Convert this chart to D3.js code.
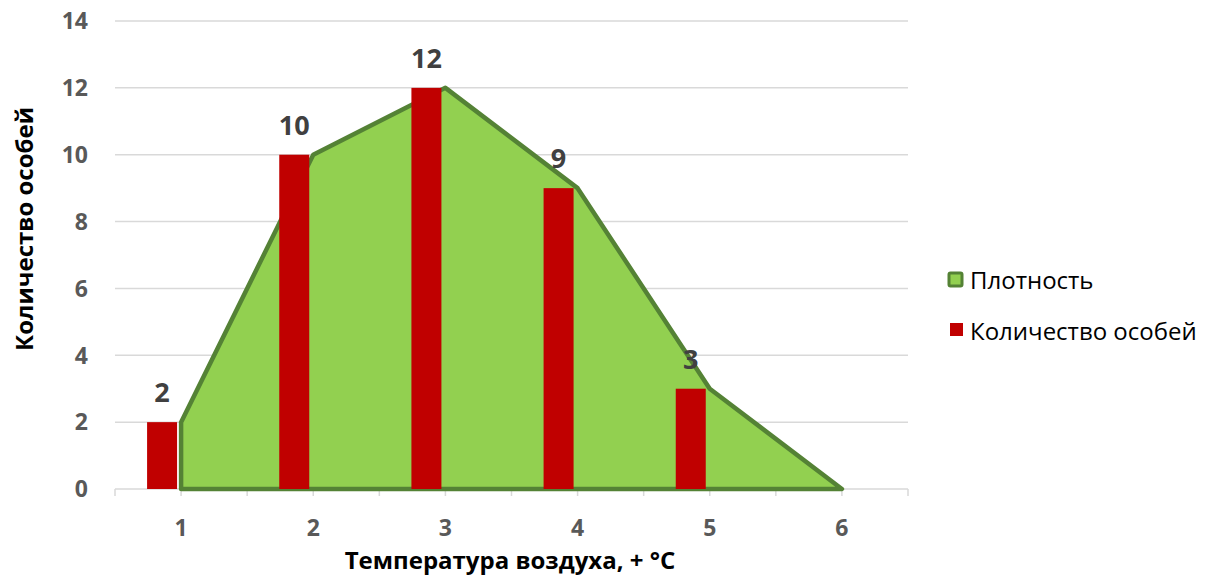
<!DOCTYPE html>
<html>
<head>
<meta charset="utf-8">
<script src="https://cdn.jsdelivr.net/npm/d3@7"></script>
<style>
  body { margin: 0; background: #fff; }
  text { font-family: "Open Sans", "Liberation Sans", sans-serif; }
</style>
</head>
<body>
<div id="chart"></div>
<script>
// chart data
const categories = ["1", "2", "3", "4", "5", "6"];
const density = [2, 10, 12, 9, 3, 0];          // Плотность (area)
const counts = [2, 10, 12, 9, 3, null];        // Количество особей (bars)
const yTicks = [0, 2, 4, 6, 8, 10, 12, 14];

const W = 1211, H = 585;
const margin = {top: 21, right: 303, bottom: 96, left: 115};
const width = W - margin.left - margin.right;
const height = H - margin.top - margin.bottom;

const svg = d3.select("#chart").append("svg")
    .attr("width", W)
    .attr("height", H);

const g = svg.append("g")
    .attr("transform", `translate(${margin.left},${margin.top})`);

// band per category, points at band centers
const x = d3.scaleBand()
    .domain(categories)
    .range([0, width]);
const cx = d => x(d) + x.bandwidth() / 2;

const y = d3.scaleLinear()
    .domain([0, 14])
    .range([height, 0]);

// gridlines
g.selectAll(".grid")
    .data(yTicks)
    .enter().append("line")
    .attr("class", "grid")
    .attr("x1", 0)
    .attr("x2", width)
    .attr("y1", d => y(d))
    .attr("y2", d => y(d))
    .attr("stroke", "#d9d9d9")
    .attr("stroke-width", 1.5);

// y tick labels
g.selectAll(".ylab")
    .data(yTicks)
    .enter().append("text")
    .attr("class", "ylab")
    .attr("x", -27)
    .attr("y", d => y(d))
    .attr("dy", "0.36em")
    .attr("text-anchor", "end")
    .attr("font-size", 23)
    .attr("font-weight", "bold")
    .attr("fill", "#595959")
    .text(d => d);

// x axis: ticks at band edges and centers
const half = x.bandwidth() / 2;
const tickPos = d3.range(categories.length * 2 + 1).map(i => i * half);
g.selectAll(".xtick")
    .data(tickPos)
    .enter().append("line")
    .attr("class", "xtick")
    .attr("x1", d => d)
    .attr("x2", d => d)
    .attr("y1", height)
    .attr("y2", height + 7)
    .attr("stroke", "#d9d9d9")
    .attr("stroke-width", 1.5);

g.selectAll(".xlab")
    .data(categories)
    .enter().append("text")
    .attr("class", "xlab")
    .attr("x", d => cx(d))
    .attr("y", height + 47)
    .attr("text-anchor", "middle")
    .attr("font-size", 23)
    .attr("font-weight", "bold")
    .attr("fill", "#595959")
    .text(d => d);

// area series
const area = d3.area()
    .x((d, i) => cx(categories[i]))
    .y0(y(0))
    .y1(d => y(d));

g.append("path")
    .datum(density)
    .attr("d", d => area(d))
    .attr("fill", "#92d050")
    .attr("stroke", "#548235")
    .attr("stroke-width", 4.5)
    .attr("stroke-linejoin", "round");

// bars, shifted left of the category center
const barW = 30, barOff = -19;
const bars = counts.map((v, i) => ({cat: categories[i], v: v})).filter(d => d.v != null);

g.selectAll(".bar")
    .data(bars)
    .enter().append("rect")
    .attr("class", "bar")
    .attr("x", d => cx(d.cat) + barOff - barW / 2)
    .attr("width", barW)
    .attr("y", d => y(d.v))
    .attr("height", d => y(0) - y(d.v))
    .attr("fill", "#c00000");

// data labels
g.selectAll(".dlab")
    .data(bars)
    .enter().append("text")
    .attr("class", "dlab")
    .attr("x", d => cx(d.cat) + barOff)
    .attr("y", d => y(d.v) - 20)
    .attr("text-anchor", "middle")
    .attr("font-size", 27)
    .attr("font-weight", "bold")
    .attr("fill", "#404040")
    .text(d => d.v);

// axis titles
svg.append("text")
    .attr("transform", `translate(33, 229) rotate(-90)`)
    .attr("text-anchor", "middle")
    .attr("font-size", 24)
    .attr("font-weight", "bold")
    .attr("fill", "#000")
    .text("Количество особей");

svg.append("text")
    .attr("x", 510)
    .attr("y", 569)
    .attr("text-anchor", "middle")
    .attr("font-size", 24)
    .attr("font-weight", "bold")
    .attr("fill", "#000")
    .text("Температура воздуха, + °C");

// legend
const legend = svg.append("g")
    .attr("transform", "translate(948, 279)");

legend.append("rect")
    .attr("x", 1).attr("y", -6)
    .attr("width", 13).attr("height", 13)
    .attr("rx", 1.5)
    .attr("fill", "#92d050")
    .attr("stroke", "#548235")
    .attr("stroke-width", 3);

legend.append("text")
    .attr("x", 22).attr("y", 1)
    .attr("dy", "0.36em")
    .attr("font-size", 24)
    .attr("fill", "#000")
    .text("Плотность");

legend.append("rect")
    .attr("x", 2).attr("y", 44)
    .attr("width", 13).attr("height", 13)
    .attr("fill", "#c00000");

legend.append("text")
    .attr("x", 22).attr("y", 52)
    .attr("dy", "0.36em")
    .attr("font-size", 24)
    .attr("fill", "#000")
    .text("Количество особей");
</script>
</body>
</html>
